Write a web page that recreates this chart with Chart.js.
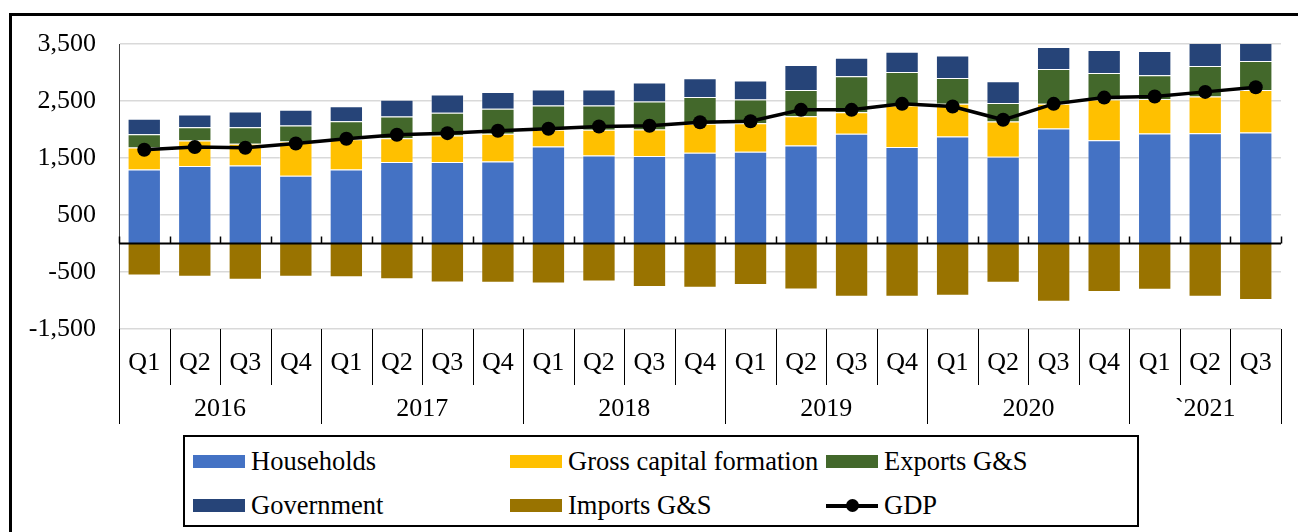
<!DOCTYPE html>
<html lang="en">
  <head>
    <meta charset="UTF-8" />
    <title>GDP by expenditure</title>
    <script src="https://cdn.jsdelivr.net/npm/chart.js"></script>
    <style>
      body {
        margin: 0;
        width: 1298px;
        height: 532px;
        overflow: hidden;
        background: #fff;
        font-family: "Liberation Serif", "Times New Roman", serif;
      }
      .frame {
        position: absolute;
        left: 9px;
        top: 13px;
        width: 1400px;
        height: 700px;
        border-left: 3px solid #000;
        border-top: 3px solid #000;
      }
      #wrap {
        position: absolute;
        left: 0;
        top: 0;
        width: 1298px;
        height: 532px;
      }
      .legend {
        position: absolute;
        left: 183px;
        top: 435px;
        width: 952px;
        height: 88px;
        border: 2px solid #000;
        background: #fff;
      }
      .legend-item {
        position: absolute;
        display: flex;
        align-items: center;
        font-size: 26.5px;
        color: #000;
        white-space: nowrap;
      }
      .swatch {
        width: 52px;
        height: 13px;
        margin-right: 6px;
        position: relative;
      }
    </style>
  </head>
  <body>
    <div class="frame"></div>
    <div id="wrap">
      <canvas id="gdpChart" width="1298" height="532"></canvas>
    </div>
    <div class="legend" id="legend"></div>

    <script>
      // quarters, grouped by year
      const quarters = [
        "Q1", "Q2", "Q3", "Q4", "Q1", "Q2", "Q3", "Q4", "Q1", "Q2", "Q3", "Q4",
        "Q1", "Q2", "Q3", "Q4", "Q1", "Q2", "Q3", "Q4", "Q1", "Q2", "Q3",
      ];
      const years = ["2016", "2017", "2018", "2019", "2020", "`2021"];
      const quartersPerYear = [4, 4, 4, 4, 4, 3];

      const households = [
        1300, 1358, 1370, 1190, 1300, 1428, 1428, 1440, 1703, 1545, 1533, 1593,
        1610, 1720, 1925, 1691, 1878, 1522, 2018, 1813, 1930, 1936, 1948,
      ];
      const capitalFormation = [
        385, 450, 380, 600, 531, 420, 467, 485, 293, 450, 467, 507,
        501, 513, 378, 729, 572, 618, 432, 712, 607, 642, 747,
      ];
      const exportsGS = [
        233, 233, 291, 280, 315, 380, 397, 437, 424, 425, 490, 472,
        414, 462, 630, 590, 455, 327, 612, 467, 413, 537, 507,
      ];
      const government = [
        269, 222, 274, 275, 262, 292, 321, 298, 280, 280, 333, 326,
        333, 437, 327, 355, 395, 379, 385, 403, 428, 450, 450,
      ];
      const importsGS = [
        -560, -584, -636, -584, -590, -625, -683, -689, -700, -665, -765, -777,
        -730, -805, -934, -934, -916, -689, -1022, -852, -812, -934, -992,
      ];
      const gdp = [
        1645, 1691, 1680, 1755, 1837, 1907, 1936, 1977, 2012, 2053, 2065, 2128,
        2146, 2345, 2345, 2450, 2403, 2170, 2450, 2560, 2578, 2660, 2741,
      ];

      const FONT = "'Liberation Serif', 'Times New Roman', serif";

      function barSet(label, data, color) {
        return {
          type: "bar",
          label: label,
          data: data,
          backgroundColor: color,
          borderColor: "rgba(255,255,255,0.35)",
          borderWidth: 1,
          barPercentage: 0.66,
          categoryPercentage: 1.0,
          stack: "gdp",
          order: 1,
        };
      }

      // year groups, separators and zero line under the plot
      const yearAxis = {
        id: "yearAxis",
        afterDraw(chart) {
          const ctx = chart.ctx;
          const x = chart.scales.x;
          const y = chart.scales.y;
          const area = chart.chartArea;
          const qBottom = area.bottom + 56;
          const yBottom = area.bottom + 95;

          ctx.save();
          // zero line with small ticks
          const y0 = y.getPixelForValue(0);
          ctx.strokeStyle = "#000";
          ctx.lineWidth = 2;
          ctx.beginPath();
          ctx.moveTo(area.left, y0);
          ctx.lineTo(area.right, y0);
          ctx.stroke();
          ctx.lineWidth = 1.5;
          for (let i = 0; i <= quarters.length; i++) {
            const px = Math.round(x.getPixelForValue(i - 0.5)) + 0.5;
            ctx.beginPath();
            ctx.moveTo(px, y0);
            ctx.lineTo(px, y0 - 7);
            ctx.stroke();
          }

          // separators
          const starts = [0];
          quartersPerYear.forEach((n, i) => starts.push(starts[i] + n));
          ctx.lineWidth = 1;
          ctx.strokeStyle = "#000";
          for (let i = 0; i <= quarters.length; i++) {
            const px = Math.round(x.getPixelForValue(i - 0.5)) + 0.5;
            const isYear = starts.includes(i);
            ctx.beginPath();
            ctx.moveTo(px, area.bottom);
            ctx.lineTo(px, isYear ? yBottom : qBottom);
            ctx.stroke();
          }

          // year labels
          ctx.fillStyle = "#000";
          ctx.font = "26px " + FONT;
          ctx.textAlign = "center";
          ctx.textBaseline = "middle";
          years.forEach((yr, i) => {
            const a = x.getPixelForValue(starts[i] - 0.5);
            const b = x.getPixelForValue(starts[i + 1] - 0.5);
            ctx.fillText(yr, (a + b) / 2, area.bottom + 80);
          });
          ctx.restore();
        },
      };

      const ctx = document.getElementById("gdpChart").getContext("2d");
      const gdpChart = new Chart(ctx, {
        data: {
          labels: quarters,
          datasets: [
            barSet("Households", households, "#4472C4"),
            barSet("Gross capital formation", capitalFormation, "#FFC000"),
            barSet("Exports G&S", exportsGS, "#43682B"),
            barSet("Government", government, "#264478"),
            barSet("Imports G&S", importsGS, "#997300"),
            {
              type: "line",
              label: "GDP",
              data: gdp,
              borderColor: "#000",
              backgroundColor: "#000",
              borderWidth: 3.5,
              pointRadius: 7,
              pointBackgroundColor: "#000",
              pointBorderWidth: 0,
              tension: 0,
              order: 0,
            },
          ],
        },
        options: {
          responsive: false,
          animation: false,
          layout: {
            padding: { top: 44, right: 17, bottom: 108, left: 0 },
          },
          plugins: {
            legend: { display: false },
            tooltip: { enabled: false },
          },
          scales: {
            x: {
              stacked: true,
              grid: { display: false, drawTicks: false },
              border: { display: false },
              ticks: {
                font: { family: FONT, size: 26 },
                color: "#000",
                padding: 19,
                maxRotation: 0,
                autoSkip: false,
              },
              afterFit(scale) {
                scale.height = 95;
              },
            },
            y: {
              stacked: true,
              min: -1500,
              max: 3500,
              grid: { color: "#d9d9d9", lineWidth: 1.5, drawTicks: false },
              border: { color: "#404040", width: 1 },
              ticks: {
                stepSize: 1000,
                padding: 23,
                color: "#000",
                font: { family: FONT, size: 26 },
                callback: (v) => v.toLocaleString("en-US"),
              },
              afterFit(scale) {
                scale.width = 119;
              },
            },
          },
        },
        plugins: [yearAxis],
      });

      // legend in three columns, built from the chart datasets
      const legendEl = document.getElementById("legend");
      const cols = [8, 325, 641];
      const rows = [25, 69];
      gdpChart.data.datasets.forEach((ds, i) => {
        const item = document.createElement("div");
        item.className = "legend-item";
        item.style.left = cols[i % 3] + "px";
        item.style.top = rows[Math.floor(i / 3)] - 16 + "px";
        const sw = document.createElement("span");
        sw.className = "swatch";
        if (ds.type === "line") {
          sw.innerHTML =
            '<span style="position:absolute;left:0;top:5px;width:52px;height:4px;background:#000"></span>' +
            '<span style="position:absolute;left:20px;top:0;width:13px;height:13px;border-radius:50%;background:#000"></span>';
        } else {
          sw.style.background = ds.backgroundColor;
        }
        const txt = document.createElement("span");
        txt.textContent = ds.label;
        item.appendChild(sw);
        item.appendChild(txt);
        legendEl.appendChild(item);
      });
    </script>
  </body>
</html>
